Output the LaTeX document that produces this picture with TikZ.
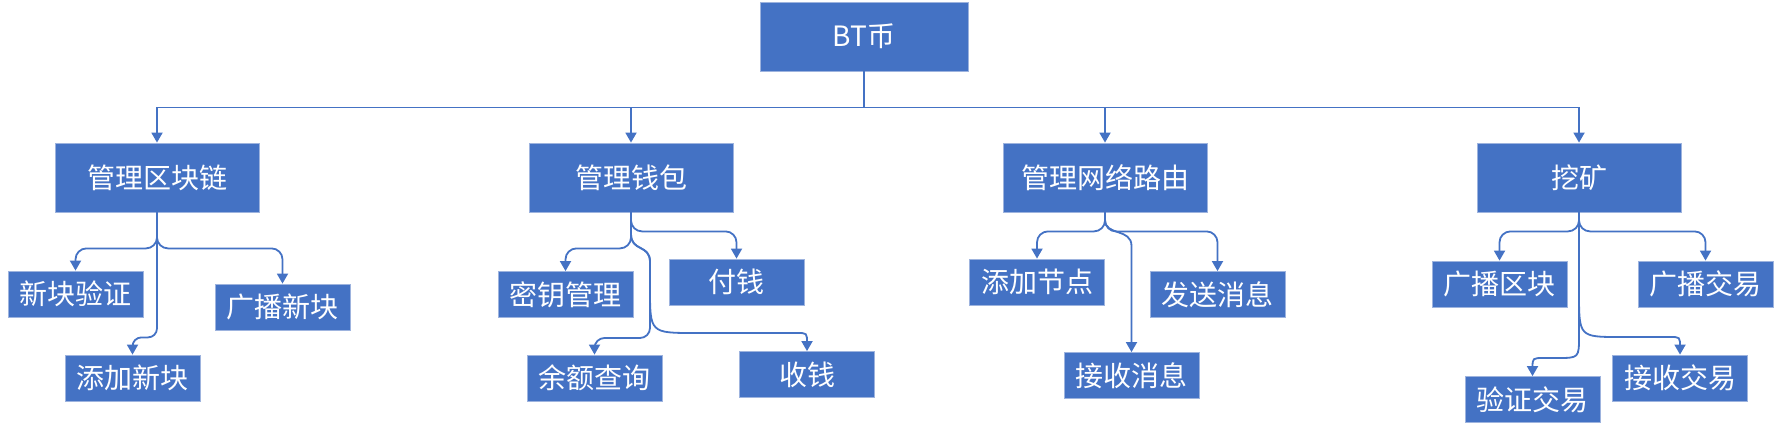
\documentclass[tikz,border=0pt]{standalone}
\usepackage{fontspec}
\setmainfont{Noto Sans CJK SC}
\usetikzlibrary{arrows.meta}
\definecolor{obl}{HTML}{4472C4}
\definecolor{oedge}{HTML}{9DB3DE}
\begin{document}
\begin{tikzpicture}[x=1pt,y=-1pt,
  mainbox/.style={draw=oedge,line width=0.8pt,fill=obl,text=white,minimum width=204pt,minimum height=69pt,inner sep=0pt,font=\fontsize{28}{30}\selectfont},
  leafbox/.style={mainbox,minimum width=135pt,minimum height=46pt},
  connline/.style={draw=obl,line width=1.8pt,-{Triangle[width=11pt,length=10pt]}},
  roundbend/.style={rounded corners=11pt}]
\useasboundingbox (0,0) rectangle (1782,428);
% level 0 and 1
\node[mainbox,minimum width=208pt] (bt) at (864,36.5) {BT币};
\node[mainbox] (p1) at (157,177.5) {管理区块链};
\node[mainbox] (p2) at (631,177.5) {管理钱包};
\node[mainbox] (p3) at (1105,177.5) {管理网络路由};
\node[mainbox] (p4) at (1579,177.5) {挖矿};
% leaves
\node[leafbox] (a1) at (75.5,294) {新块验证};
\node[leafbox] (a2) at (282.5,307) {广播新块};
\node[leafbox] (a3) at (132.5,378) {添加新块};
\node[leafbox] (b1) at (565.5,294.5) {密钥管理};
\node[leafbox] (b2) at (736.5,282) {付钱};
\node[leafbox] (b3) at (594.5,378) {余额查询};
\node[leafbox] (b4) at (807,374.5) {收钱};
\node[leafbox] (c1) at (1037,282) {添加节点};
\node[leafbox] (c2) at (1217.5,294.5) {发送消息};
\node[leafbox] (c3) at (1131.5,375.5) {接收消息};
\node[leafbox] (d1) at (1499.5,284) {广播区块};
\node[leafbox] (d2) at (1705.5,284) {广播交易};
\node[leafbox] (d3) at (1532.5,399.5) {验证交易};
\node[leafbox] (d4) at (1680,378) {接收交易};
% top connectors
\draw[connline] (bt.south) -- ++(0,36) -| (p1.north);
\draw[connline] (bt.south) -- ++(0,36) -| (p2.north);
\draw[connline] (bt.south) -- ++(0,36) -| (p3.north);
\draw[connline] (bt.south) -- ++(0,36) -| (p4.north);
% tree 1
\draw[connline,roundbend] (p1.south) -- ++(0,36) -| (a1.north);
\draw[connline,roundbend] (p1.south) -- ++(0,36) -| (a2.north);
\draw[connline,rounded corners=9pt] (p1.south) -- ++(0,125) -| (a3.north);
% tree 2
\draw[connline,roundbend] (p2.south) -- ++(0,36) -| (b1.north);
\draw[connline,roundbend] (p2.south) -- ++(0,19) -| (b2.north);
\draw[connline] (p2.south) -- (631,234) .. controls (631,252) and (650,244) .. (650,262) [rounded corners=10pt] -- (650,338) -| (b3.north);
\draw[connline] (p2.south) -- (631,234) .. controls (631,252) and (650,244) .. (650,262) -- (650,288) .. controls (650,333) .. (695,333) -- (797,333) .. controls (807,333) .. (807,343) -- (b4.north);
% tree 3
\draw[connline,roundbend] (p3.south) -- ++(0,19) -| (c1.north);
\draw[connline,roundbend] (p3.south) -- ++(0,19) -| (c2.north);
\draw[connline] (p3.south) -- (1105,220) .. controls (1105,236) and (1131.5,228) .. (1131.5,246) -- (c3.north);
% tree 4
\draw[connline,roundbend] (p4.south) -- ++(0,19) -| (d1.north);
\draw[connline,roundbend] (p4.south) -- ++(0,19) -| (d2.north);
\draw[connline] (p4.south) -- (1579,336) .. controls (1579,358) .. (1557,358) -- (1544,358) .. controls (1532.5,358) .. (1532.5,368) -- (d3.north);
\draw[connline] (p4.south) -- (1579,292) .. controls (1579,337) .. (1620,337) -- (1670,337) .. controls (1680,337) .. (1680,347) -- (d4.north);
\end{tikzpicture}
\end{document}
